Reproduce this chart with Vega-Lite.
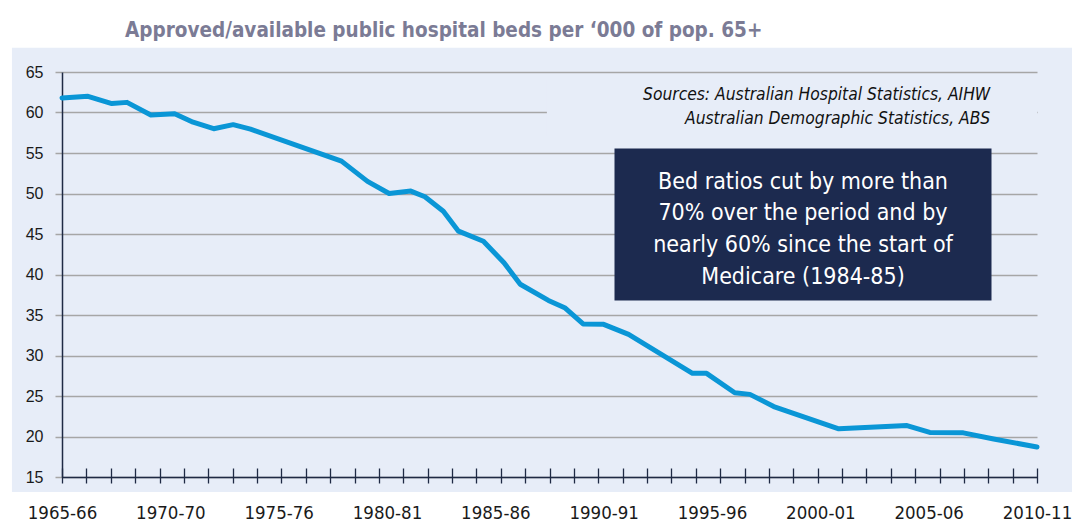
{
  "$schema": "https://vega.github.io/schema/vega-lite/v6.json",
  "width": 975,
  "height": 405,
  "autosize": "none",
  "padding": {"left": 62, "top": 72, "right": 35, "bottom": 50},
  "background": "#E7EDF8",
  "title": {
    "text": "Approved/available public hospital beds per ‘000 of pop. 65+",
    "anchor": "start",
    "frame": "group",
    "dx": 63,
    "offset": -58,
    "baseline": "alphabetic",
    "font": "DejaVu Sans Condensed, sans-serif",
    "fontSize": 20.5,
    "fontWeight": "bold",
    "color": "#7B7B95"
  },
  "config": {"view": {"stroke": null}},
  "resolve": {"axis": {"x": "independent", "y": "independent"}},
  "layer": [
    {
      "data": {"values": [{}]},
      "mark": {"type": "rect", "color": "#FFFFFF"},
      "encoding": {
        "x": {"datum": 1955, "type": "quantitative", "scale": {"domain": [1965, 2010], "nice": false, "zero": false}, "axis": null},
        "x2": {"datum": 2020},
        "y": {"datum": 68, "type": "quantitative", "scale": {"domain": [15, 65], "nice": false, "zero": false}, "axis": null},
        "y2": {"datum": 73.9}
      }
    },
    {
      "data": {"values": [{}]},
      "mark": {"type": "rect", "color": "#FFFFFF"},
      "encoding": {
        "x": {"datum": 1955, "type": "quantitative", "scale": {"domain": [1965, 2010], "nice": false, "zero": false}, "axis": null},
        "x2": {"datum": 2020},
        "y": {"datum": 13.15, "type": "quantitative", "scale": {"domain": [15, 65], "nice": false, "zero": false}, "axis": null},
        "y2": {"datum": 8.8}
      }
    },
    {
      "data": {"values": [{}]},
      "mark": {"type": "rect", "color": "#FFFFFF"},
      "encoding": {
        "x": {"datum": 1962.1, "type": "quantitative", "scale": {"domain": [1965, 2010], "nice": false, "zero": false}, "axis": null},
        "x2": {"datum": 1962.69},
        "y": {"datum": 8.8, "type": "quantitative", "scale": {"domain": [15, 65], "nice": false, "zero": false}, "axis": null},
        "y2": {"datum": 73.9}
      }
    },
    {
      "data": {"values": [{}]},
      "mark": {"type": "rect", "color": "#E7EDF8"},
      "encoding": {
        "x": {
          "datum": 1987.38, "type": "quantitative",
          "scale": {"domain": [1965, 2010], "nice": false, "zero": false},
          "axis": {
            "orient": "bottom",
            "values": [1965, 1966.125, 1967.25, 1968.375, 1969.5, 1970.625, 1971.75, 1972.875, 1974, 1975.125, 1976.25, 1977.375, 1978.5, 1979.625, 1980.75, 1981.875, 1983, 1984.125, 1985.25, 1986.375, 1987.5, 1988.625, 1989.75, 1990.875, 1992, 1993.125, 1994.25, 1995.375, 1996.5, 1997.625, 1998.75, 1999.875, 2001, 2002.125, 2003.25, 2004.375, 2005.5, 2006.625, 2007.75, 2008.875, 2010],
            "labels": false,
            "title": null,
            "grid": false,
            "domain": false,
            "ticks": true,
            "tickSize": 15,
            "tickColor": "#1F2A44",
            "tickWidth": 1.3,
            "offset": -9,
            "zindex": 1
          }
        },
        "x2": {"datum": 2010},
        "y": {"datum": 57, "type": "quantitative", "scale": {"domain": [15, 65], "nice": false, "zero": false}, "axis": null},
        "y2": {"datum": 64}
      }
    },
    {
      "data": {"values": [{}]},
      "mark": {"type": "rect", "color": "#1C2A4F"},
      "encoding": {
        "x": {"datum": 1990.5, "type": "quantitative", "scale": {"domain": [1965, 2010], "nice": false, "zero": false}, "axis": null},
        "x2": {"datum": 2007.9},
        "y": {"datum": 55.56, "type": "quantitative", "scale": {"domain": [15, 65], "nice": false, "zero": false}, "axis": null},
        "y2": {"datum": 36.78}
      }
    },
    {
      "data": {"values": [{}]},
      "mark": {
        "type": "text",
        "text": ["Bed ratios cut by more than", "70% over the period and by", "nearly 60% since the start of", "Medicare (1984-85)"],
        "align": "center",
        "baseline": "alphabetic",
        "lineHeight": 31.7,
        "font": "DejaVu Sans Condensed, sans-serif",
        "fontSize": 23,
        "color": "#FFFFFF"
      },
      "encoding": {
        "x": {"datum": 1999.2, "type": "quantitative", "scale": {"domain": [1965, 2010], "nice": false, "zero": false}, "axis": null},
        "y": {"datum": 50.58, "type": "quantitative", "scale": {"domain": [15, 65], "nice": false, "zero": false}, "axis": null}
      }
    },
    {
      "data": {"values": [{}]},
      "mark": {
        "type": "text",
        "text": ["Sources: Australian Hospital Statistics, AIHW", "Australian Demographic Statistics, ABS"],
        "align": "right",
        "baseline": "alphabetic",
        "lineHeight": 23.6,
        "font": "DejaVu Sans Condensed, sans-serif",
        "fontSize": 17.3,
        "fontStyle": "italic",
        "color": "#111111"
      },
      "encoding": {
        "x": {"datum": 2007.84, "type": "quantitative", "scale": {"domain": [1965, 2010], "nice": false, "zero": false}, "axis": null},
        "y": {"datum": 61.52, "type": "quantitative", "scale": {"domain": [15, 65], "nice": false, "zero": false}, "axis": null}
      }
    },
    {
      "data": {
        "values": [
          {"year": 1965.0, "beds": 61.8},
          {"year": 1966.2, "beds": 62.0},
          {"year": 1967.3, "beds": 61.1},
          {"year": 1968.0, "beds": 61.25},
          {"year": 1969.1, "beds": 59.7},
          {"year": 1970.2, "beds": 59.85},
          {"year": 1971.05, "beds": 58.8},
          {"year": 1972.0, "beds": 58.0},
          {"year": 1972.9, "beds": 58.5},
          {"year": 1973.7, "beds": 57.95},
          {"year": 1977.9, "beds": 54.0},
          {"year": 1979.1, "beds": 51.5},
          {"year": 1980.1, "beds": 50.0},
          {"year": 1981.1, "beds": 50.3},
          {"year": 1981.75, "beds": 49.6},
          {"year": 1982.6, "beds": 47.8},
          {"year": 1983.3, "beds": 45.35},
          {"year": 1984.45, "beds": 44.1},
          {"year": 1985.4, "beds": 41.45},
          {"year": 1986.15, "beds": 38.8},
          {"year": 1987.45, "beds": 36.8},
          {"year": 1988.2, "beds": 35.9},
          {"year": 1989.05, "beds": 33.9},
          {"year": 1990.0, "beds": 33.85},
          {"year": 1991.15, "beds": 32.6},
          {"year": 1994.1, "beds": 27.8},
          {"year": 1994.75, "beds": 27.8},
          {"year": 1996.05, "beds": 25.4},
          {"year": 1996.75, "beds": 25.2},
          {"year": 1997.85, "beds": 23.7},
          {"year": 2000.85, "beds": 20.95},
          {"year": 2004.0, "beds": 21.35},
          {"year": 2005.05, "beds": 20.5},
          {"year": 2006.6, "beds": 20.45},
          {"year": 2008.0, "beds": 19.7},
          {"year": 2010.0, "beds": 18.7}
        ]
      },
      "mark": {"type": "line", "color": "#0A96D6", "strokeWidth": 5, "strokeCap": "round", "strokeJoin": "round"},
      "encoding": {
        "x": {
          "field": "year", "type": "quantitative",
          "scale": {"domain": [1965, 2010], "nice": false, "zero": false},
          "axis": {
            "orient": "bottom",
            "values": [1965, 1970, 1975, 1980, 1985, 1990, 1995, 2000, 2005, 2010],
            "labelExpr": "datum.value == 1970 ? '1970-70' : datum.value + '-' + substring(toString(datum.value + 1), 2, 4)",
            "title": null,
            "grid": false,
            "ticks": false,
            "tickSize": 0,
            "domain": true,
            "domainColor": "#1F2A44",
            "domainWidth": 1.5,
            "labelFont": "DejaVu Sans Condensed, sans-serif",
            "labelFontSize": 18.5,
            "labelColor": "#1A1A1A",
            "labelBaseline": "alphabetic",
            "labelPadding": 41,
            "labelFlush": false,
            "labelOverlap": false,
            "zindex": 1
          }
        },
        "y": {
          "field": "beds", "type": "quantitative",
          "scale": {"domain": [15, 65], "nice": false, "zero": false},
          "axis": {
            "orient": "left",
            "values": [15, 20, 25, 30, 35, 40, 45, 50, 55, 60, 65],
            "title": null,
            "grid": true,
            "gridColor": "#A6A6A6",
            "gridWidth": 1.5,
            "domain": true,
            "domainColor": "#1F2A44",
            "domainWidth": 1.5,
            "ticks": true,
            "tickSize": 7,
            "tickColor": "#A6A6A6",
            "tickWidth": 1.5,
            "labelFont": "Liberation Sans, Arial, sans-serif",
            "labelFontSize": 16,
            "labelColor": "#1A1A1A",
            "labelPadding": 12,
            "labelBaseline": "middle",
            "zindex": 0
          }
        }
      }
    }
  ]
}
